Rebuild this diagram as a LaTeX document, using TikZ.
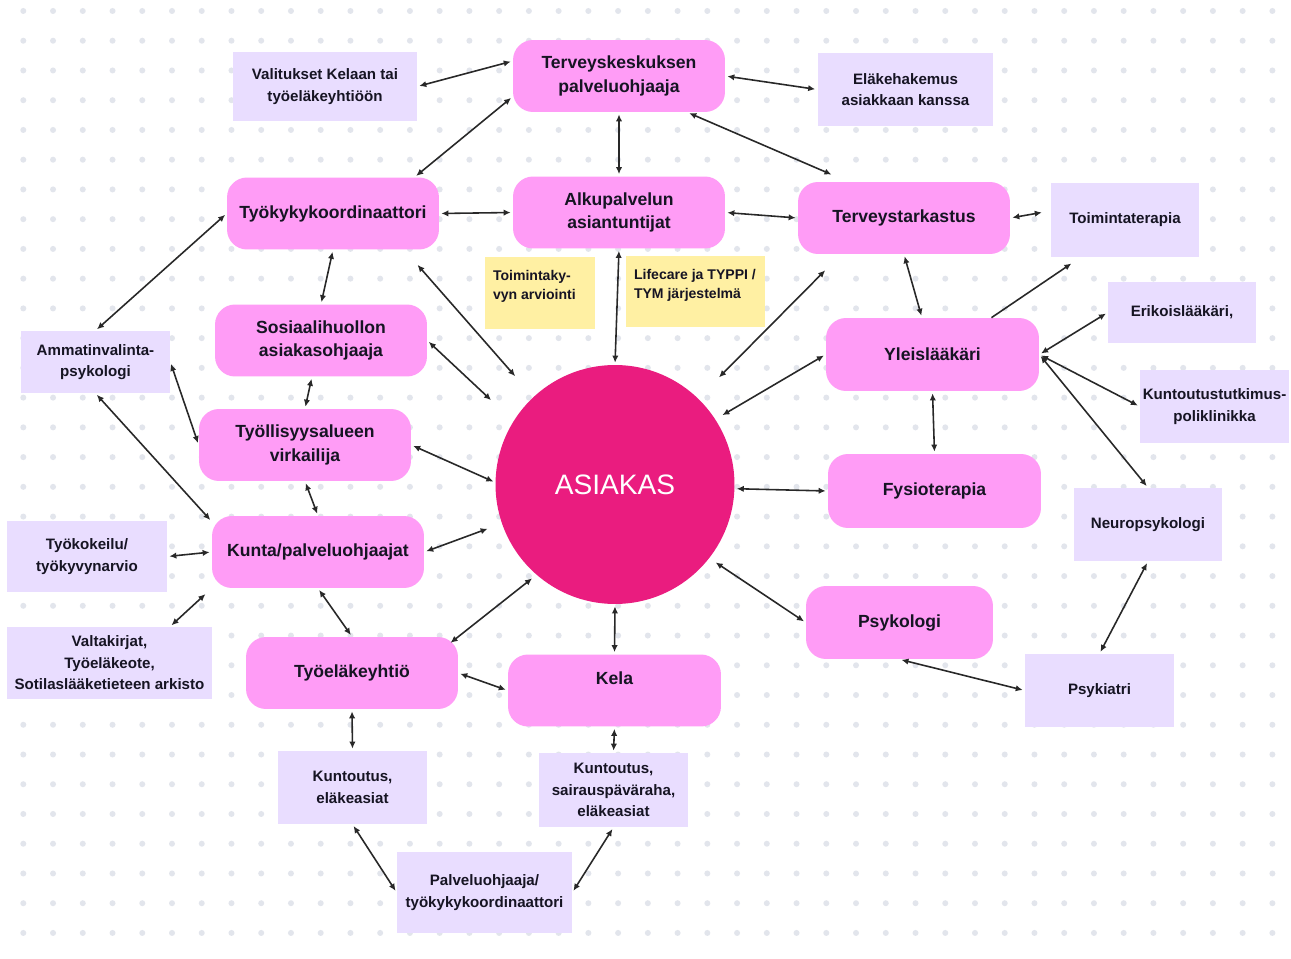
\documentclass[tikz,border=0pt]{standalone}
\usepackage{fontspec}
\setmainfont{Liberation Sans}
\usetikzlibrary{arrows.meta}

\definecolor{pinkfill}{RGB}{255,156,246}
\definecolor{lilafill}{RGB}{233,221,255}
\definecolor{notefill}{RGB}{255,240,163}
\definecolor{asiakasfill}{RGB}{234,28,127}
\definecolor{dotclr}{RGB}{226,229,236}
\definecolor{lineclr}{RGB}{40,40,40}
\definecolor{textclr}{RGB}{22,20,35}

\begin{document}
\begin{tikzpicture}[x=0.02cm,y=-0.02cm,>={Latex[length=4pt,width=3.6pt]}]
    \tikzstyle{pinkbox}=[rectangle,rounded corners=4mm,fill=pinkfill,inner sep=0pt,minimum width=4.24cm,minimum height=1.44cm,align=center,text=textclr,font=\bfseries\fontsize{10}{13.6}\selectfont]
    \tikzstyle{lilabox}=[rectangle,fill=lilafill,inner sep=0pt,minimum width=2.98cm,minimum height=1.46cm,align=center,text=textclr,font=\bfseries\fontsize{8.6}{12.2}\selectfont]
    \tikzstyle{note}=[rectangle,fill=notefill,inner xsep=1.6mm,inner ysep=2.6mm,text=textclr,font=\bfseries\fontsize{8}{10.8}\selectfont]
    \tikzstyle{link}=[<->,draw=lineclr,line width=0.9pt,shorten <=0.4mm,shorten >=0.4mm]

    \useasboundingbox (0,0) rectangle (1291,959);
    \fill[white] (0,0) rectangle (1291,959);
    \foreach \i in {0,...,42}
      \foreach \j in {0,...,32}
        \fill[dotclr] ({23.3+29.74*\i},{11+29.74*\j}) circle (0.06cm);

      % middle
      \node (asiakas) at (615,484.5) [circle,fill=asiakasfill,minimum size=4.78cm,text=white,font=\fontsize{16}{19}\selectfont] {ASIAKAS};
      \node (tsk) at (619,76) [pinkbox] {Terveyskeskuksen\\palveluohjaaja};
      \node (alku) at (619,212.5) [pinkbox] {Alkupalvelun\\asiantuntijat};
      \node (toimk) at (540,293) [note] {\parbox[c][0.92cm][t]{1.88cm}{\raggedright Toimintaky-\\vyn arviointi}};
      \node (lifec) at (695.5,291.5) [note] {\parbox[c][0.90cm][t]{2.46cm}{\raggedright Lifecare ja TYPPI /\\TYM järjestelmä}};
      \node (kela) at (614.5,690.5) [pinkbox,minimum width=4.26cm] {Kela\\\mbox{}};
      \node (kuntsai) at (613.5,790) [lilabox,minimum height=1.48cm] {Kuntoutus,\\sairauspäväraha,\\eläkeasiat};
      \node (palv) at (484.5,892.5) [lilabox,minimum width=3.5cm,minimum height=1.62cm] {Palveluohjaaja/\\työkykykoordinaattori};

      % left
      \node (valit) at (325,86.5) [lilabox,minimum width=3.68cm,minimum height=1.38cm] {Valitukset Kelaan tai\\työeläkeyhtiöön};
      \node (tkk) at (333,213.5) [pinkbox] {Työkykykoordinaattori};
      \node (sos) at (321,340.5) [pinkbox] {Sosiaalihuollon\\asiakasohjaaja};
      \node (tyoll) at (305,445) [pinkbox] {Työllisyysalueen\\virkailija};
      \node (kunta) at (318,552) [pinkbox] {Kunta/palveluohjaajat};
      \node (tel) at (352,673) [pinkbox] {Työeläkeyhtiö};
      \node (ammat) at (95.5,362) [lilabox,minimum height=1.24cm] {Ammatinvalinta-\\psykologi};
      \node (tyokok) at (87,556.5) [lilabox,minimum width=3.2cm,minimum height=1.42cm] {Työkokeilu/\\työkyvynarvio};
      \node (valta) at (109.5,663) [lilabox,minimum width=4.1cm,minimum height=1.44cm] {Valtakirjat,\\Työeläkeote,\\Sotilaslääketieteen arkisto};
      \node (kuntel) at (352.5,787.5) [lilabox] {Kuntoutus,\\eläkeasiat};

      % right
      \node (elake) at (905.5,89.5) [lilabox,minimum width=3.52cm] {Eläkehakemus\\asiakkaan kanssa};
      \node (ttark) at (904,218) [pinkbox] {Terveystarkastus};
      \node (yleis) at (932.5,354.5) [pinkbox,minimum width=4.26cm,minimum height=1.46cm] {Yleislääkäri};
      \node (fysio) at (934.5,491) [pinkbox,minimum width=4.26cm,minimum height=1.48cm] {Fysioterapia};
      \node (psyk) at (899.5,622.5) [pinkbox,minimum width=3.74cm,minimum height=1.46cm] {Psykologi};
      \node (toimt) at (1125,220) [lilabox,minimum width=2.96cm,minimum height=1.48cm] {Toimintaterapia};
      \node (erik) at (1182,312.5) [lilabox,minimum width=2.96cm,minimum height=1.22cm] {Erikoislääkäri,};
      \node (kuntpol) at (1214.5,406.5) [lilabox] {Kuntoutustutkimus-\\poliklinikka};
      \node (neuro) at (1148,524.5) [lilabox,minimum width=2.96cm] {Neuropsykologi};
      \node (psykiatri) at (1099.5,690.5) [lilabox] {Psykiatri};

      \path (valit.east) edge [link] (tsk.172);
      \path (tsk.191) edge [link] (tkk.24);
      \path (tsk.south) edge [link] (alku.north);
      \path (tsk.east) edge [link] (elake.west);
      \path (tsk.-28) edge [link,shorten >=3.6mm] (ttark.147);
      \path (tkk.east) edge [link] (alku.west);
      \path (alku.east) edge [link] (ttark.west);
      \path (alku.south) edge [link] (asiakas.north);
      \path (ttark.east) edge [link,shorten >=1.8mm] (toimt.173);
      \path (ttark.south) edge [link] (yleis.106);
      \path (yleis.32) edge [link,->,shorten <=0pt,shorten >=2.2mm] (toimt.220);
      \path (yleis.east) edge [link] (erik.west);
      \path (yleis.east) edge [link] (kuntpol.west);
      \path (yleis.east) edge [link] (neuro.north);
      \path (yleis.south) edge [link] (fysio.north);
      \path (asiakas.33) edge [link,shorten <=1.6mm] (yleis.west);
      \path (asiakas.46) edge [link,shorten <=5.9mm,shorten >=4.5mm] (ttark.210);
      \path (asiakas.-2) edge [link] (fysio.west);
      \path (asiakas.-38) edge [link,shorten <=1.5mm] (psyk.west);
      \path (psyk.south) edge [link] (psykiatri.west);
      \path (neuro.south) edge [link] (psykiatri.north);
      \path (asiakas.south) edge [link] (kela.north);
      \path (kela.south) edge [link] (kuntsai.north);
      \path (tel.east) edge [link] (kela.west);
      \path (tel.north east) edge [link,shorten <=-2mm,shorten >=1.1mm] (asiakas.229);
      \path (tel.south) edge [link] (kuntel.north);
      \path (kuntel.south) edge [link] (palv.west);
      \path (kuntsai.south) edge [link] (palv.east);
      \path (kunta.south) edge [link] (tel.north);
      \path (kunta.east) edge [link,shorten >=3mm] (asiakas.199);
      \path (tyoll.east) edge [link] (asiakas.179);
      \path (sos.east) edge [link,shorten >=6.1mm] (asiakas.148);
      \path (tkk.-27) edge [link,shorten <=4mm,shorten >=5.5mm] (asiakas.133);
      \path (tkk.south) edge [link] (sos.north);
      \path (sos.-104) edge [link] (tyoll.north);
      \path (tyoll.south) edge [link] (kunta.north);
      \path (tkk.west) edge [link] (ammat.north);
      \path (ammat.east) edge [link] (tyoll.west);
      \path (ammat.south) edge [link] (kunta.164);
      \path (tyokok.east) edge [link] (kunta.west);
      \path (valta.31) edge [link,shorten >=1.7mm] (kunta.south west);
  \end{tikzpicture}
\end{document}
